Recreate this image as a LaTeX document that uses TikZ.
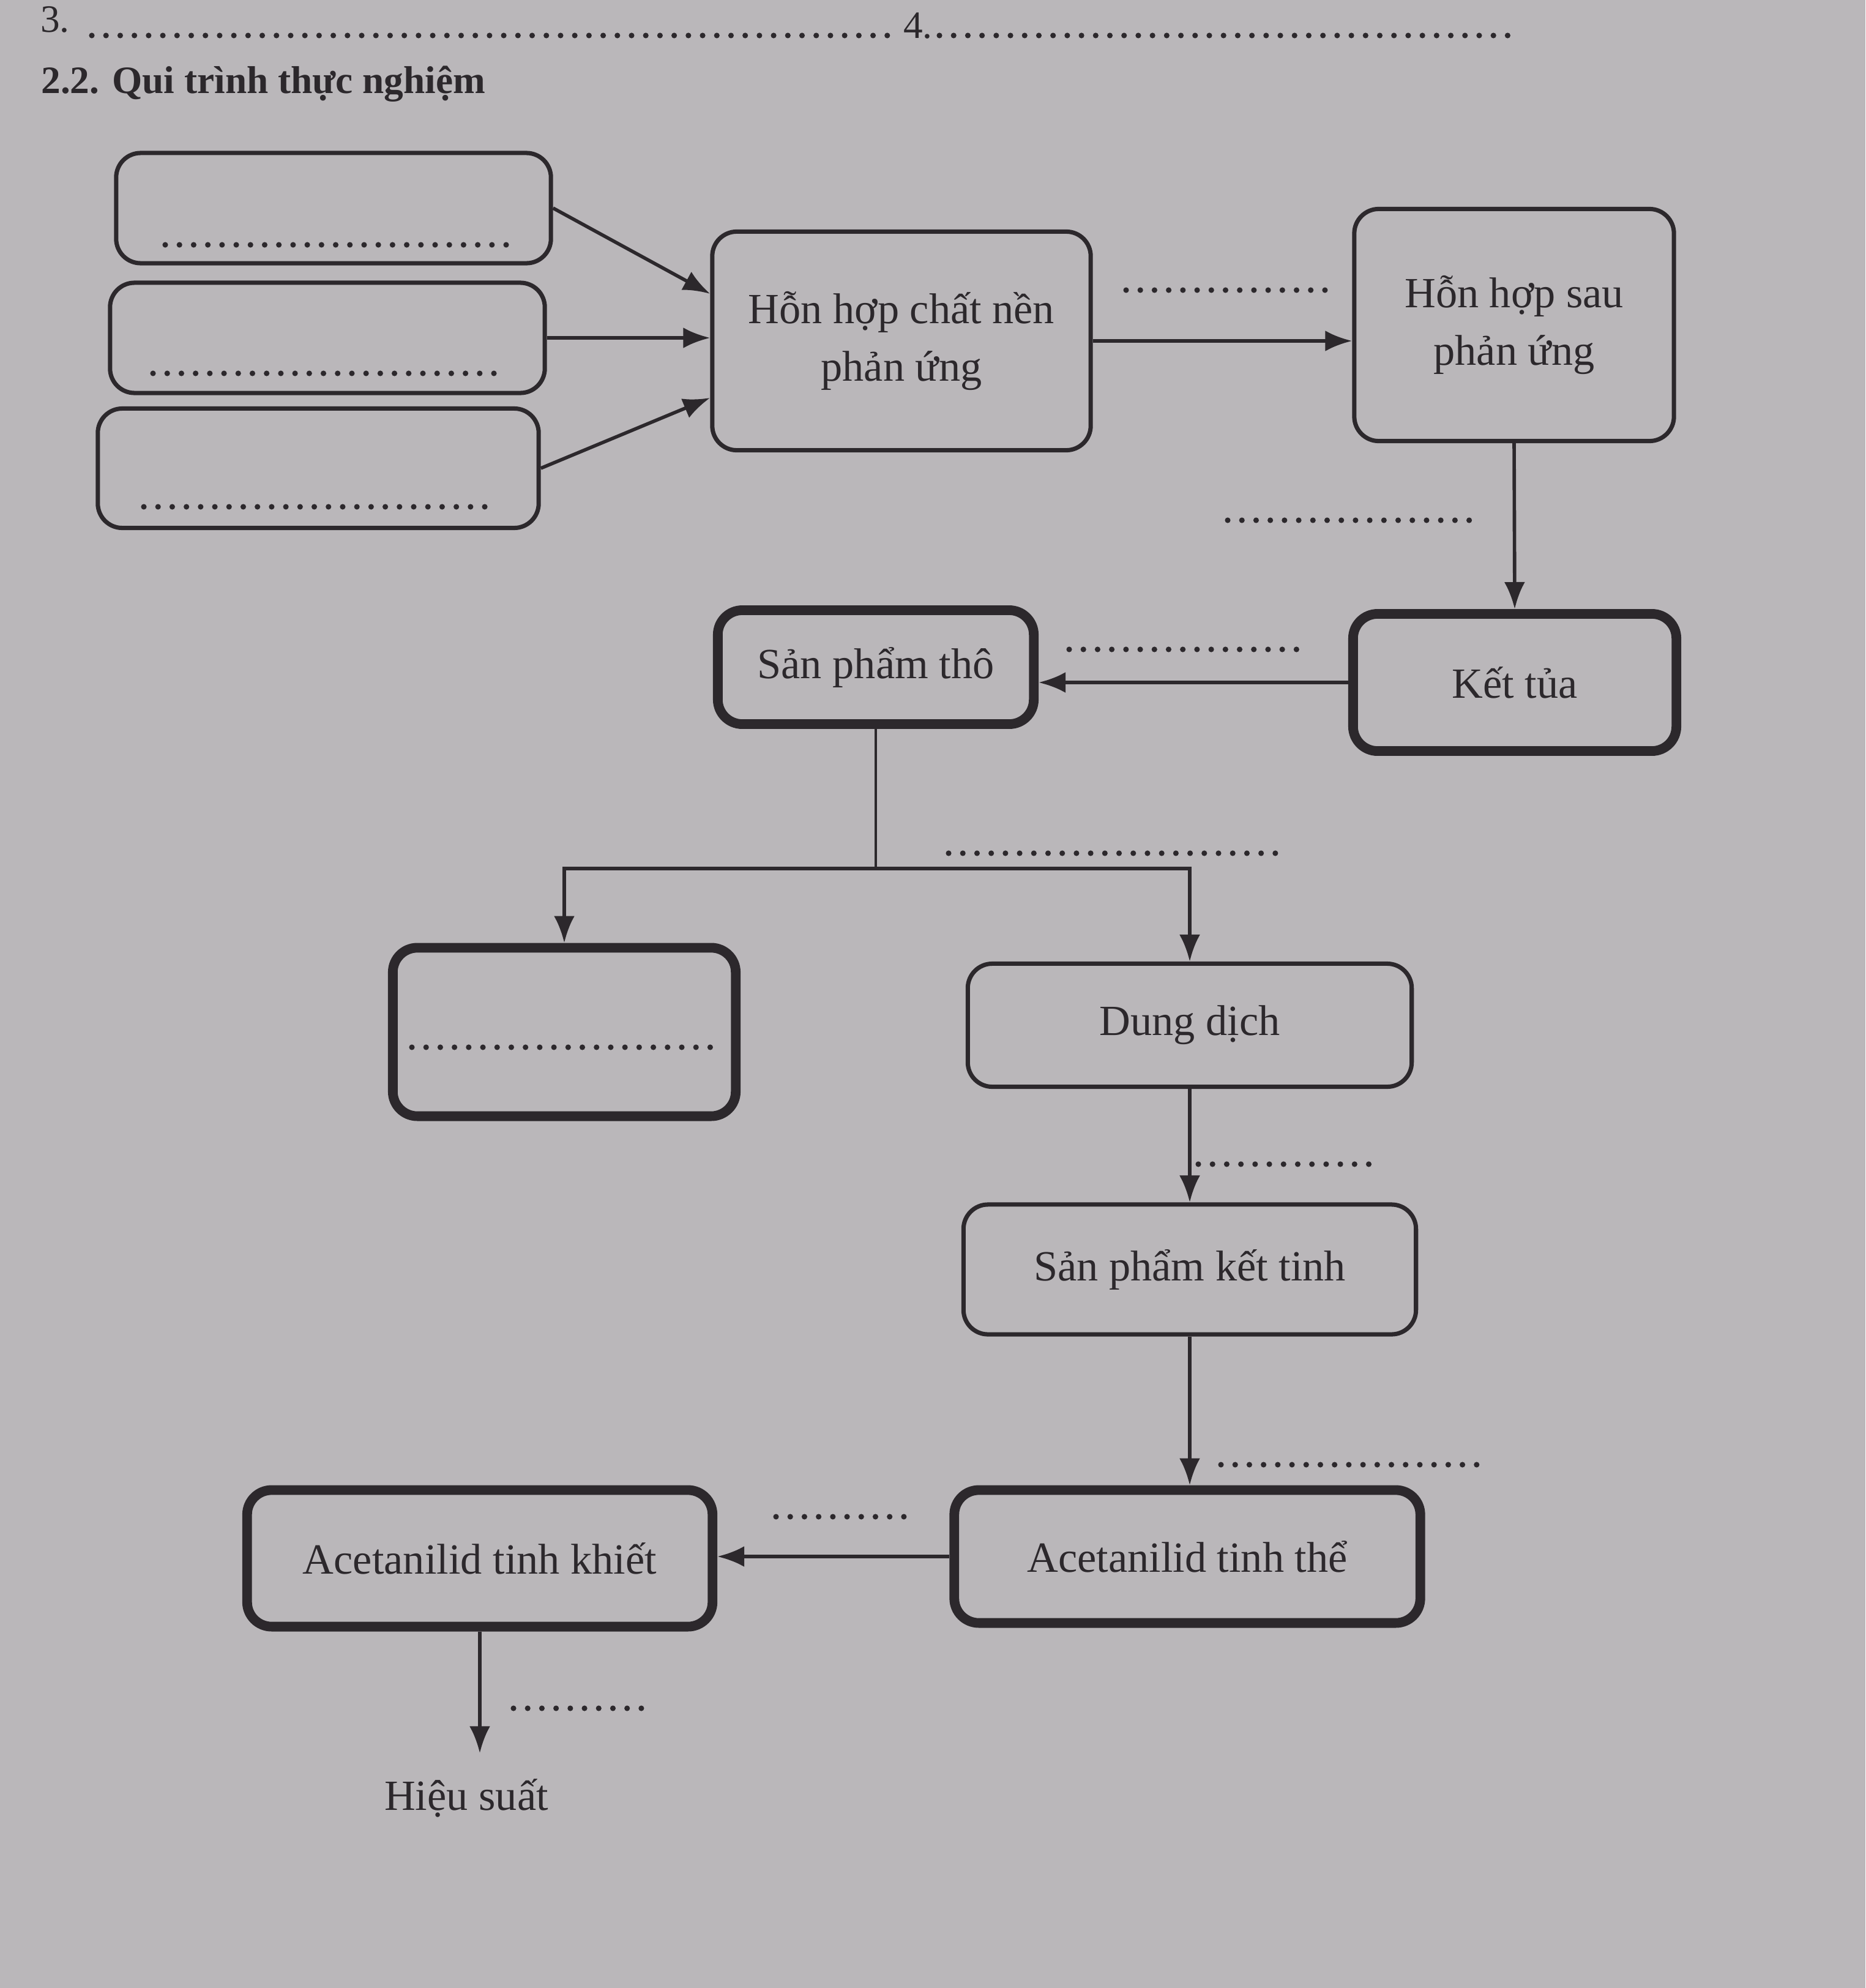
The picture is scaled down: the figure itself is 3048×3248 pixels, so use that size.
\documentclass[tikz,border=0pt]{standalone}
\usepackage{fontspec}
\setmainfont{Liberation Serif}
\usetikzlibrary{arrows.meta,positioning,calc}
\definecolor{paper}{RGB}{186,183,186}
\definecolor{ink}{RGB}{44,40,44}

\begin{document}
\begin{tikzpicture}[x=0.01cm,y=-0.01cm,>={Latex[length=4.4mm,width=3.4mm]},
    box/.style={draw=ink,line width=2pt,rounded corners=4mm,align=center,text=ink,font=\fontsize{20}{27}\selectfont},
    boldbox/.style={box,line width=4.5pt},
    blank/.style={draw=ink,line width=2.6pt,line cap=round,dash pattern=on 0pt off 6.6pt},
    arr/.style={->,draw=ink,line width=1.6pt}]
    \fill[paper] (0,0) rectangle (3048,3248);
    \useasboundingbox (0,0) rectangle (3048,3248);
    % header
    \node[text=ink,font=\fontsize{18}{22}\selectfont] (n3) at (90,32) {3.};
    \node[text=ink,font=\fontsize{18}{22}\selectfont] (n4) at (1500,42) {4.};
    \draw[blank] (150,58) -- (1465,58);
    \draw[blank] (1535,58) -- (2480,58);
    \node[anchor=west,text=ink,font=\bfseries\fontsize{18}{22}\selectfont] (title) at (55,137) {2.2. Qui trình thực nghiệm};
    % inputs
    \node[box,minimum width=7.1cm,minimum height=1.8cm] (in1) at (545,340) {};
    \node[box,minimum width=7.1cm,minimum height=1.8cm] (in2) at (535,552) {};
    \node[box,minimum width=7.2cm,minimum height=1.95cm] (in3) at (520,765) {};
    \draw[blank] (270,400) -- (830,400);
    \draw[blank] (250,610) -- (810,610);
    \draw[blank] (235,828) -- (795,828);
    % main line
    \node[box,minimum width=6.18cm,minimum height=3.57cm] (mix) at (1473,557) {Hỗn hợp chất nền\\phản ứng};
    \node[box,minimum width=5.22cm,minimum height=3.79cm] (after) at (2474,531) {Hỗn hợp sau\\phản ứng};
    \node[boldbox,minimum width=5.28cm,minimum height=2.24cm] (ppt) at (2475,1115) {Kết tủa};
    \node[boldbox,minimum width=5.16cm,minimum height=1.86cm] (crude) at (1431,1090) {Sản phẩm thô};
    \node[boldbox,minimum width=5.6cm,minimum height=2.75cm] (waste) at (922,1686) {};
    \draw[blank] (673,1711) -- (1171,1711);
    \node[box,minimum width=7.25cm,minimum height=2.01cm] (soln) at (1944,1675) {Dung dịch};
    \node[box,minimum width=7.39cm,minimum height=2.12cm] (cryst) at (1944,2074) {Sản phẩm kết tinh};
    \node[boldbox,minimum width=7.61cm,minimum height=2.17cm] (crys) at (1940,2543) {Acetanilid tinh thể};
    \node[boldbox,minimum width=7.6cm,minimum height=2.23cm] (pure) at (784,2546) {Acetanilid tinh khiết};
    \node[text=ink,font=\fontsize{20}{24}\selectfont] (yield) at (762,2938) {Hiệu suất};
    % connectors
    \draw[arr] (in1.east) -- ($(mix.west)+(0,-77)$);
    \draw[arr] (in2.east) -- (in2.east -| mix.west);
    \draw[arr] (in3.east) -- ($(mix.west)+(0,93)$);
    \draw[arr] (mix.east) -- (mix.east -| after.west);
    \draw[arr] (after.south) -- (ppt.north);
    \draw[arr] (ppt.west) -- (ppt.west -| crude.east);
    \coordinate (fork) at (1431,1419);
    \draw[ink,line width=1.3pt] (crude.south) -- (fork);
    \draw[arr] (fork) -- (waste.north |- fork) -- (waste.north);
    \draw[arr] (fork) -- (soln.north |- fork) -- (soln.north);
    \draw[arr] (soln.south) -- (cryst.north);
    \draw[arr] (cryst.south) -- (cryst.south |- crys.north);
    \draw[arr] (crys.west) -- (crys.west -| pure.east);
    \draw[arr,shorten >=3mm] (pure.south) -- (pure.south |- yield.north);
    % blanks on the steps
    \draw[blank] (1840,474) -- (2165,474);
    \draw[blank] (2006,850) -- (2414,850);
    \draw[blank] (1747,1061) -- (2140,1061);
    \draw[blank] (1550,1394) -- (2099,1394);
    \draw[blank] (1958,1902) -- (2238,1902);
    \draw[blank] (1995,2393) -- (2424,2393);
    \draw[blank] (1268,2478) -- (1492,2478);
    \draw[blank] (839,2791) -- (1057,2791);
\end{tikzpicture}
\end{document}
